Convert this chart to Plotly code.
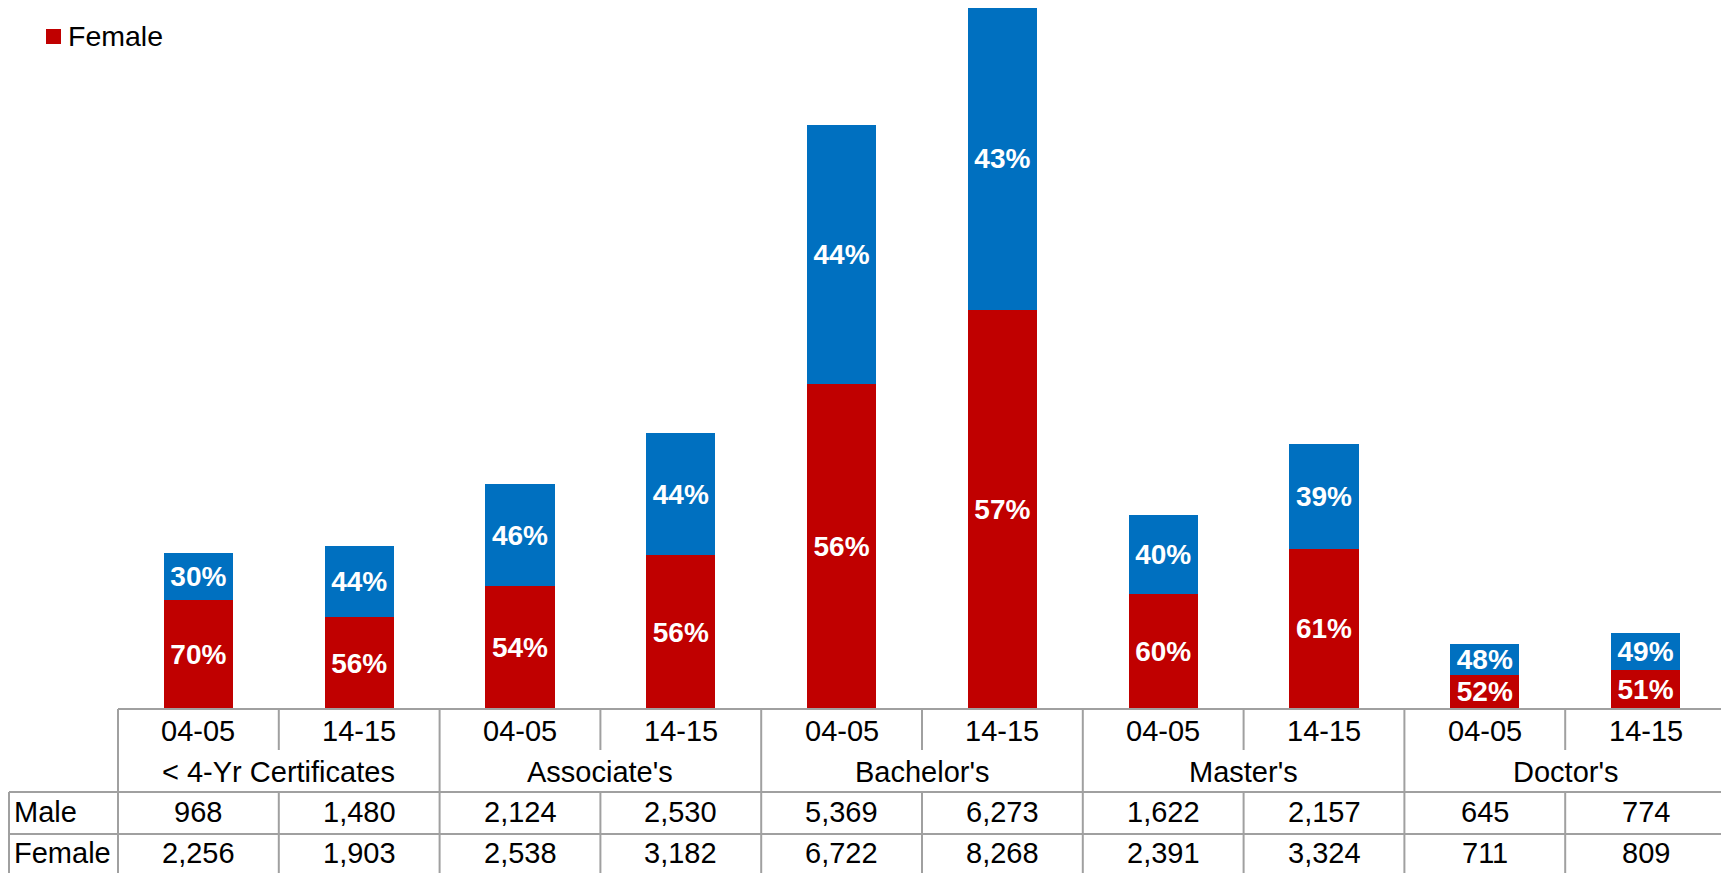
import plotly.graph_objects as go

categories = ["< 4-Yr Certificates", "Associate's", "Bachelor's", "Master's", "Doctor's"]
years = ["04-05", "14-15"]
male = [968, 1480, 2124, 2530, 5369, 6273, 1622, 2157, 645, 774]
female = [2256, 1903, 2538, 3182, 6722, 8268, 2391, 3324, 711, 809]

RED = "#C00000"
BLUE = "#0070C0"
GRID = "#A0A0A0"
FONT = "Liberation Sans, Arial, sans-serif"
FS = 28
FS_TABLE = 29

# page (viewport) geometry; the html body adds an 8px offset
OFF = 8
PAGE_W, PAGE_H = 1729, 873
W, H = PAGE_W - OFF, PAGE_H - OFF
PLOT_L, PLOT_R = 118, 1726          # page coords
PLOT_T, PLOT_B = OFF, 709           # page coords
BAR_TOP = 7                         # page y of tallest bar

n = len(male)
xs = list(range(n))
totals = [m + f for m, f in zip(male, female)]
fpct = [f"{round(100 * f / t)}%" for f, t in zip(female, totals)]
mpct = [f"{round(100 * m / t)}%" for m, t in zip(male, totals)]

fig = go.Figure()
fig.add_trace(go.Bar(x=xs, y=female, name="Female", marker=dict(color=RED, line=dict(width=0)),
                     width=0.43, text=fpct, textposition="inside", insidetextanchor="middle",
                     textangle=0, constraintext="none",
                     textfont=dict(color="white", size=FS, family=FONT, weight="bold"),
                     hoverinfo="skip"))
fig.add_trace(go.Bar(x=xs, y=male, name="Male", marker=dict(color=BLUE, line=dict(width=0)),
                     width=0.43, text=mpct, textposition="inside", insidetextanchor="middle",
                     textangle=0, constraintext="none",
                     textfont=dict(color="white", size=FS, family=FONT, weight="bold"),
                     hoverinfo="skip"))

ymax = max(totals) * (PLOT_B - PLOT_T) / (PLOT_B - BAR_TOP)

def px_x(px):
    return (px - PLOT_L) / (PLOT_R - PLOT_L)

def px_y(py):
    return (PLOT_B - py) / (PLOT_B - PLOT_T)

shapes = []
def line(x0, y0, x1, y1):
    shapes.append(dict(type="line", xref="paper", yref="paper",
                       x0=px_x(x0), y0=px_y(y0), x1=px_x(x1), y1=px_y(y1),
                       line=dict(color=GRID, width=2)))

colw = (PLOT_R - PLOT_L) / n
Y_TOP, Y_YEAR, Y_CAT, Y_MALE, Y_BOT = 709, 750, 792, 834, 880
LEFT_BOX = 9
line(PLOT_L, Y_TOP, PLOT_R, Y_TOP)
line(LEFT_BOX, Y_CAT, PLOT_R, Y_CAT)
line(LEFT_BOX, Y_MALE, PLOT_R, Y_MALE)
line(LEFT_BOX, Y_CAT, LEFT_BOX, Y_BOT)
for i in range(n + 1):
    xp = PLOT_L + i * colw
    if i % 2 == 0:
        line(xp, Y_TOP, xp, Y_BOT)
    else:
        line(xp, Y_TOP, xp, Y_YEAR)
        line(xp, Y_CAT, xp, Y_BOT)

# legend marker (manual legend, to keep the plot margins fixed)
shapes.append(dict(type="rect", xref="paper", yref="paper",
                   x0=px_x(46), x1=px_x(61), y0=px_y(44), y1=px_y(29),
                   fillcolor=RED, line=dict(width=0)))

ann = []
def text(xp, yp, s, anchor="center", size=FS_TABLE):
    ann.append(dict(xref="paper", yref="paper", x=px_x(xp), y=px_y(yp), text=s,
                    showarrow=False, xanchor=anchor, yanchor="middle",
                    font=dict(size=size, color="black", family=FONT)))

for i in range(n):
    cx = PLOT_L + (i + 0.5) * colw
    text(cx, 731, years[i % 2])
    text(cx, 812, f"{male[i]:,}")
    text(cx, 853, f"{female[i]:,}")
for k, c in enumerate(categories):
    cx = PLOT_L + (2 * k + 1) * colw
    text(cx, 772, c)
text(12, 812, "Male", "left")
text(12, 853, "Female", "left")
text(66, 36, "Female", "left", 28.5)

fig.update_layout(
    barmode="stack",
    width=W, height=H,
    margin=dict(l=PLOT_L - OFF, r=PAGE_W - PLOT_R, t=PLOT_T - OFF, b=PAGE_H - PLOT_B, pad=0),
    paper_bgcolor="white", plot_bgcolor="white",
    xaxis=dict(range=[-0.5, n - 0.5], showticklabels=False, showgrid=False, zeroline=False,
               showline=False, ticks=""),
    yaxis=dict(range=[0, ymax], visible=False, showgrid=False, zeroline=False),
    shapes=shapes, annotations=ann,
    showlegend=False,
    font=dict(family=FONT),
)

fig.write_html("out.html")
